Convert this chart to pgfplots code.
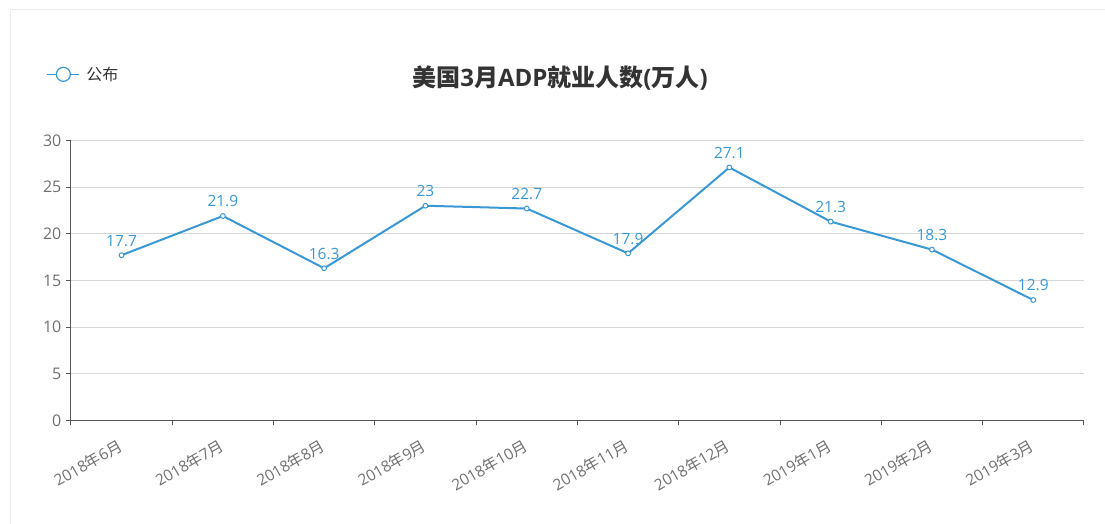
\documentclass[border=0pt]{standalone}
\usepackage{pgfplots}
\pgfplotsset{compat=1.18}
\usepackage{fontspec}
\setmainfont{Open Sans}
\newfontfamily\cjk{Noto Sans CJK SC}
\definecolor{lineblue}{HTML}{3A98D6}
\definecolor{axisgray}{HTML}{555555}
\definecolor{gridgray}{HTML}{D6D6D6}
\definecolor{labgray}{HTML}{707070}
\definecolor{titlegray}{HTML}{333333}
\newcommand{\nian}{{\cjk 年}}
\newcommand{\yue}{{\cjk 月}}
\begin{document}
\begin{tikzpicture}[x=1pt,y=1pt]
\draw[gray!15, line width=1pt] (10,0) -- (10,514) -- (1105,514);
\begin{axis}[
  at={(70,111)}, anchor=south west,
  scale only axis, width=1013pt, height=280pt,
  xmin=0, xmax=10, ymin=0, ymax=30,
  axis x line=bottom, axis y line=left,
  axis line style={axisgray, line width=1pt, -},
  xtick={0.5,1.5,...,9.5},
  xticklabels={2018\nian6\yue,2018\nian7\yue,2018\nian8\yue,2018\nian9\yue,2018\nian10\yue,2018\nian11\yue,2018\nian12\yue,2019\nian1\yue,2019\nian2\yue,2019\nian3\yue},
  major x tick style={draw=none},
  minor xtick={0,1,...,10},
  minor tick length=5pt,
  minor x tick style={axisgray, line width=1pt},
  ytick={0,5,...,30},
  major tick length=5pt,
  tick align=outside,
  major y tick style={axisgray, line width=1pt},
  ymajorgrids,
  major grid style={gridgray, line width=0.8pt},
  /pgf/number format/assume math mode=true,
  yticklabel style={font=\fontsize{16}{18}\selectfont, text=labgray, xshift=-1pt},
  xticklabel style={font=\fontsize{15.5}{17}\selectfont, text=labgray, yshift=-17pt, xshift=2pt, rotate=30, anchor=east},
  nodes near coords,
  every node near coord/.append style={font=\fontsize{15.5}{18}\selectfont, text=lineblue, anchor=south, yshift=5pt},
  point meta=explicit symbolic,
  legend style={at={(-0.027,1.236)}, anchor=west, draw=none, fill=none, font=\fontsize{16}{18}\selectfont\cjk, text=titlegray, legend cell align=left},
  legend image code/.code={
    \draw[lineblue, line width=1.2pt] (0pt,0pt) -- (32pt,0pt);
    \draw[lineblue, line width=1.2pt, fill=white] (16pt,0pt) circle (7pt);
    \path (36pt,0pt);
  },
  clip=false,
]
\addplot[lineblue, line width=2pt, mark=*, mark size=2.4pt, mark options={fill=white, line width=1pt}]
  coordinates {
  (0.5,17.7) [17.7]
  (1.5,21.9) [21.9]
  (2.5,16.3) [16.3]
  (3.5,23) [23]
  (4.5,22.7) [22.7]
  (5.5,17.9) [17.9]
  (6.5,27.1) [27.1]
  (7.5,21.3) [21.3]
  (8.5,18.3) [18.3]
  (9.5,12.9) [12.9]
  };
\addlegendentry{公布}
\end{axis}
\node[font=\fontsize{24}{28}\selectfont\bfseries, text=titlegray] at (560,446) {{\cjk 美国}3{\cjk 月}ADP{\cjk 就业人数}({\cjk 万人})};
\pgfresetboundingbox
\path[use as bounding box] (0,0) rectangle (1105,524);
\end{tikzpicture}
\end{document}
